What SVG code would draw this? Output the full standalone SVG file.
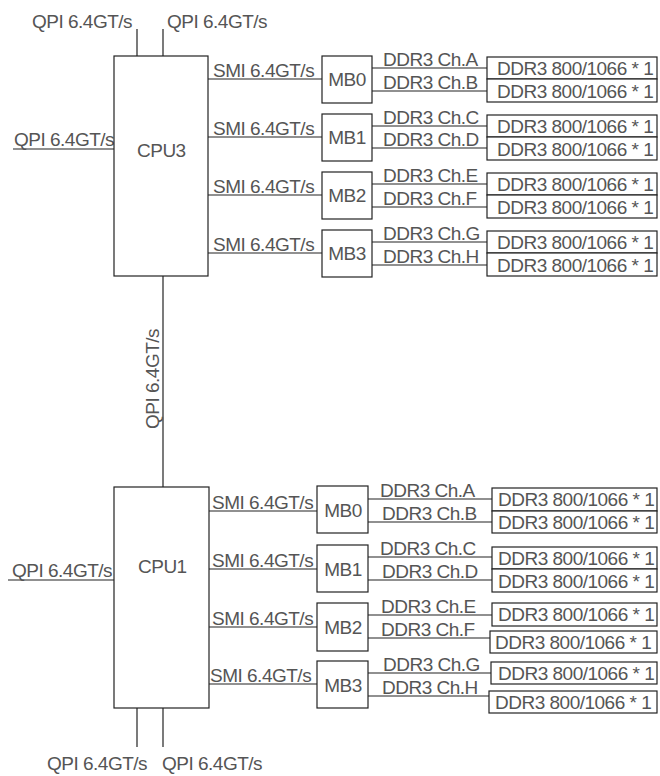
<svg xmlns="http://www.w3.org/2000/svg" width="660" height="776" viewBox="0 0 660 776">
<style>
.b{fill:#fff;stroke:#222;stroke-width:1.2}
.l{stroke:#222;stroke-width:1.2;fill:none}
text{font-family:"Liberation Sans",Arial,sans-serif;font-size:19px;letter-spacing:-0.5px;fill:#555}
.m{text-anchor:middle}
</style>
<rect width="660" height="776" fill="#fff"/>
<g id="connectors">
  <line class="l" x1="137" y1="29" x2="137" y2="56"/>
  <line class="l" x1="163" y1="29" x2="163" y2="56"/>
  <text x="32" y="28">QPI 6.4GT/s</text>
  <text x="167" y="28">QPI 6.4GT/s</text>
  <line class="l" x1="13" y1="149" x2="114" y2="149"/>
  <text x="14" y="146">QPI 6.4GT/s</text>
  <line class="l" x1="163" y1="276" x2="163" y2="487"/>
  <text transform="translate(159,429) rotate(-90)">QPI 6.4GT/s</text>
  <line class="l" x1="8" y1="580" x2="114" y2="580"/>
  <text x="12" y="577">QPI 6.4GT/s</text>
  <line class="l" x1="137" y1="708" x2="137" y2="747"/>
  <line class="l" x1="163" y1="708" x2="163" y2="747"/>
  <text x="47" y="770">QPI 6.4GT/s</text>
  <text x="162" y="770">QPI 6.4GT/s</text>
  <line class="l" x1="208" y1="79" x2="322" y2="79"/>
  <line class="l" x1="208" y1="137" x2="322" y2="137"/>
  <line class="l" x1="208" y1="195" x2="322" y2="195"/>
  <line class="l" x1="208" y1="253" x2="322" y2="253"/>
  <text x="213" y="77">SMI 6.4GT/s</text>
  <text x="213" y="135">SMI 6.4GT/s</text>
  <text x="213" y="193">SMI 6.4GT/s</text>
  <text x="213" y="251">SMI 6.4GT/s</text>
  <line class="l" x1="372" y1="68" x2="487" y2="68"/>
  <line class="l" x1="372" y1="91" x2="487" y2="91"/>
  <line class="l" x1="372" y1="126" x2="487" y2="126"/>
  <line class="l" x1="372" y1="148" x2="487" y2="148"/>
  <line class="l" x1="372" y1="184" x2="487" y2="184"/>
  <line class="l" x1="372" y1="207" x2="487" y2="207"/>
  <line class="l" x1="372" y1="242" x2="487" y2="242"/>
  <line class="l" x1="372" y1="265" x2="487" y2="265"/>
  <text x="383" y="66">DDR3 Ch.A</text>
  <text x="383" y="89">DDR3 Ch.B</text>
  <text x="383" y="124">DDR3 Ch.C</text>
  <text x="383" y="146">DDR3 Ch.D</text>
  <text x="383" y="182">DDR3 Ch.E</text>
  <text x="383" y="205">DDR3 Ch.F</text>
  <text x="383" y="240">DDR3 Ch.G</text>
  <text x="383" y="263">DDR3 Ch.H</text>
  <line class="l" x1="209" y1="511" x2="317" y2="511"/>
  <line class="l" x1="209" y1="569" x2="317" y2="569"/>
  <line class="l" x1="209" y1="627" x2="317" y2="627"/>
  <line class="l" x1="209" y1="684" x2="317" y2="684"/>
  <text x="212" y="509">SMI 6.4GT/s</text>
  <text x="212" y="567">SMI 6.4GT/s</text>
  <text x="212" y="625">SMI 6.4GT/s</text>
  <text x="210" y="682">SMI 6.4GT/s</text>
  <line class="l" x1="368" y1="499" x2="492" y2="499"/>
  <line class="l" x1="368" y1="522" x2="492" y2="522"/>
  <line class="l" x1="368" y1="557" x2="492" y2="557"/>
  <line class="l" x1="368" y1="580" x2="492" y2="580"/>
  <line class="l" x1="368" y1="615" x2="492" y2="615"/>
  <line class="l" x1="368" y1="638" x2="490" y2="638"/>
  <line class="l" x1="368" y1="673" x2="491" y2="673"/>
  <line class="l" x1="368" y1="696" x2="492" y2="696"/>
  <text x="380" y="497">DDR3 Ch.A</text>
  <text x="382" y="520">DDR3 Ch.B</text>
  <text x="380" y="555">DDR3 Ch.C</text>
  <text x="382" y="578">DDR3 Ch.D</text>
  <text x="381" y="613">DDR3 Ch.E</text>
  <text x="381" y="636">DDR3 Ch.F</text>
  <text x="383" y="671">DDR3 Ch.G</text>
  <text x="382" y="694">DDR3 Ch.H</text>
</g>
<g id="cpu3"><rect class="b" x="114" y="56" width="94" height="220"/><text x="137" y="157">CPU3</text></g>
<g id="cpu1"><rect class="b" x="114" y="487" width="95" height="221"/><text x="138" y="573">CPU1</text></g>
<g id="cpu3-mb0"><rect class="b" x="322" y="56" width="50" height="47"/><text class="m" x="347" y="86">MB0</text></g>
<g id="cpu3-mb1"><rect class="b" x="322" y="114" width="50" height="47"/><text class="m" x="347" y="144">MB1</text></g>
<g id="cpu3-mb2"><rect class="b" x="322" y="172" width="50" height="47"/><text class="m" x="347" y="202">MB2</text></g>
<g id="cpu3-mb3"><rect class="b" x="322" y="230" width="50" height="47"/><text class="m" x="347" y="260">MB3</text></g>
<g id="cpu3-dimm-a"><rect class="b" x="487" y="57" width="170" height="22"/><text x="497" y="75">DDR3 800/1066 * 1</text></g>
<g id="cpu3-dimm-b"><rect class="b" x="487" y="79" width="170" height="23"/><text x="497" y="98">DDR3 800/1066 * 1</text></g>
<g id="cpu3-dimm-c"><rect class="b" x="487" y="115" width="170" height="22"/><text x="497" y="133">DDR3 800/1066 * 1</text></g>
<g id="cpu3-dimm-d"><rect class="b" x="487" y="137" width="170" height="23"/><text x="497" y="156">DDR3 800/1066 * 1</text></g>
<g id="cpu3-dimm-e"><rect class="b" x="487" y="173" width="170" height="22"/><text x="497" y="191">DDR3 800/1066 * 1</text></g>
<g id="cpu3-dimm-f"><rect class="b" x="487" y="195" width="170" height="23"/><text x="497" y="214">DDR3 800/1066 * 1</text></g>
<g id="cpu3-dimm-g"><rect class="b" x="487" y="231" width="170" height="22"/><text x="497" y="249">DDR3 800/1066 * 1</text></g>
<g id="cpu3-dimm-h"><rect class="b" x="487" y="253" width="170" height="23"/><text x="497" y="272">DDR3 800/1066 * 1</text></g>
<g id="cpu1-mb0"><rect class="b" x="317" y="486" width="51" height="47"/><text class="m" x="343" y="517">MB0</text></g>
<g id="cpu1-mb1"><rect class="b" x="317" y="545" width="51" height="47"/><text class="m" x="343" y="576">MB1</text></g>
<g id="cpu1-mb2"><rect class="b" x="317" y="603" width="51" height="48"/><text class="m" x="343" y="634">MB2</text></g>
<g id="cpu1-mb3"><rect class="b" x="317" y="661" width="51" height="47"/><text class="m" x="343" y="692">MB3</text></g>
<g id="cpu1-dimm-a"><rect class="b" x="492" y="488" width="165" height="23"/><text x="498" y="506">DDR3 800/1066 * 1</text></g>
<g id="cpu1-dimm-b"><rect class="b" x="492" y="511" width="165" height="22"/><text x="498" y="529">DDR3 800/1066 * 1</text></g>
<g id="cpu1-dimm-c"><rect class="b" x="492" y="547" width="165" height="22"/><text x="498" y="565">DDR3 800/1066 * 1</text></g>
<g id="cpu1-dimm-d"><rect class="b" x="492" y="569" width="165" height="23"/><text x="498" y="588">DDR3 800/1066 * 1</text></g>
<g id="cpu1-dimm-e"><rect class="b" x="492" y="603" width="165" height="23"/><text x="498" y="621">DDR3 800/1066 * 1</text></g>
<g id="cpu1-dimm-f"><rect class="b" x="490" y="631" width="167" height="22"/><text x="495" y="649">DDR3 800/1066 * 1</text></g>
<g id="cpu1-dimm-g"><rect class="b" x="491" y="662" width="166" height="22"/><text x="498" y="680">DDR3 800/1066 * 1</text></g>
<g id="cpu1-dimm-h"><rect class="b" x="489" y="691" width="168" height="22"/><text x="495" y="709">DDR3 800/1066 * 1</text></g>
</svg>
